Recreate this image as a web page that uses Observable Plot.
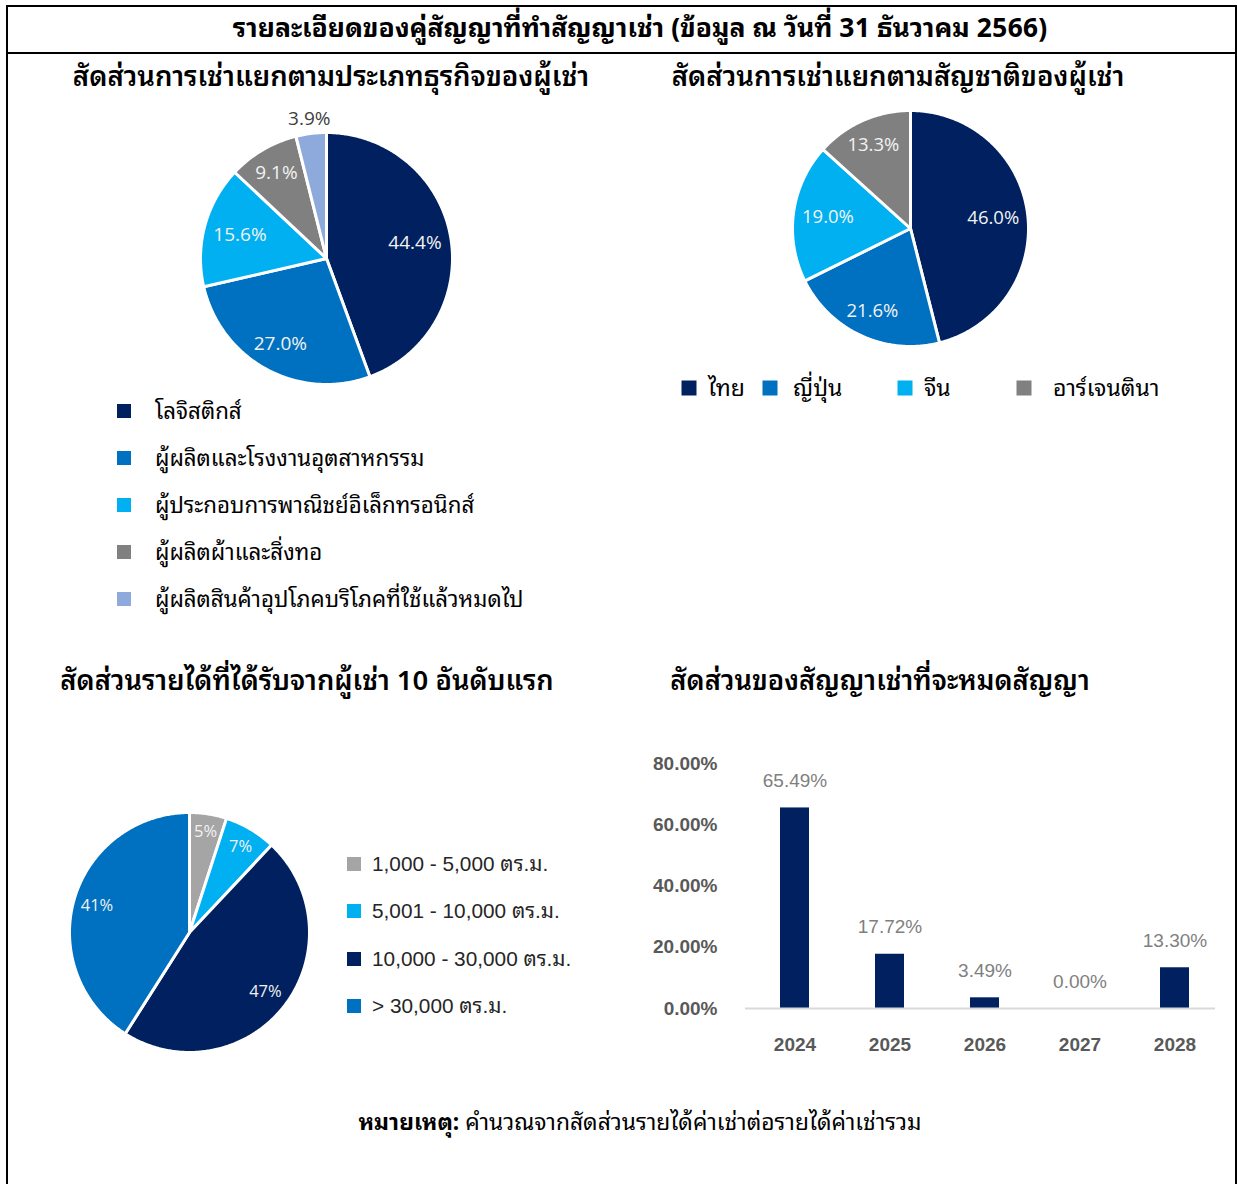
<!DOCTYPE html>
<html><head><meta charset="utf-8">
<script src="https://cdn.jsdelivr.net/npm/d3@7"></script>
<script src="https://cdn.jsdelivr.net/npm/@observablehq/plot@0.6"></script>
<style>
body{margin:0;width:1237px;height:1184px;position:relative;overflow:hidden;background:#fff;font-family:"Noto Sans Thai Looped",Loma,Garuda,"Noto Sans Thai","Noto Sans",sans-serif;color:#000;}
.abs{position:absolute;}
.c{position:absolute;transform:translate(-50%,-50%);white-space:nowrap;}
.l{position:absolute;transform:translate(0,-50%);white-space:nowrap;}
#frame{position:absolute;left:6px;top:5px;width:1227px;height:1200px;border:2px solid #000;}
#hline{position:absolute;left:6px;top:52px;width:1231px;height:2px;background:#000;}
.sq{position:absolute;transform:translate(-50%,-50%);}
</style></head><body>
<div id="frame"></div><div id="hline"></div>
<div id="root"></div>
<script>
// ---------- DATA ----------
const mainTitle = "รายละเอียดของคู่สัญญาที่ทำสัญญาเช่า (ข้อมูล ณ วันที่ 31 ธันวาคม 2566)";
const title1 = "สัดส่วนการเช่าแยกตามประเภทธุรกิจของผู้เช่า";
const title2 = "สัดส่วนการเช่าแยกตามสัญชาติของผู้เช่า";
const title3 = "สัดส่วนรายได้ที่ได้รับจากผู้เช่า 10 อันดับแรก";
const title4 = "สัดส่วนของสัญญาเช่าที่จะหมดสัญญา";
const noteBold = "หมายเหตุ:";
const noteText = " คำนวณจากสัดส่วนรายได้ค่าเช่าต่อรายได้ค่าเช่ารวม";

const businessTypes = ["โลจิสติกส์","ผู้ผลิตและโรงงานอุตสาหกรรม","ผู้ประกอบการพาณิชย์อิเล็กทรอนิกส์","ผู้ผลิตผ้าและสิ่งทอ","ผู้ผลิตสินค้าอุปโภคบริโภคที่ใช้แล้วหมดไป"];
const businessShares = [44.4, 27.0, 15.6, 9.1, 3.9];
const businessColors = ["#002060","#0070C0","#00B0F0","#808080","#8EA9DB"];

const nationalities = ["ไทย","ญี่ปุ่น","จีน","อาร์เจนตินา"];
const nationalityShares = [46.0, 21.6, 19.0, 13.3];
const nationalityColors = ["#002060","#0070C0","#00B0F0","#808080"];

const areaSizes = ["1,000 - 5,000 ตร.ม.","5,001 - 10,000 ตร.ม.","10,000 - 30,000 ตร.ม.","> 30,000 ตร.ม."];
const areaShares = [5, 7, 47, 41];
const areaColors = ["#A5A5A5","#00B0F0","#002060","#0070C0"];

const expiryYears = ["2024","2025","2026","2027","2028"];
const expiryShares = [65.49, 17.72, 3.49, 0.00, 13.30];
const yTicks = [0, 20, 40, 60, 80];

// ---------- HELPERS ----------
const root = document.getElementById("root");
const thai = '"Noto Sans Thai Looped",Loma,Garuda,"Noto Sans Thai","Noto Sans",sans-serif';
function addText(txt, cx, cy, css, cls="c") {
  const d = document.createElement("div");
  d.className = cls; d.style.left = cx + "px"; d.style.top = cy + "px";
  d.style.cssText += css; d.textContent = txt; root.appendChild(d); return d;
}
function place(node, left, top) {
  const w = document.createElement("div");
  w.className = "abs"; w.style.left = left + "px"; w.style.top = top + "px";
  w.appendChild(node); root.appendChild(w);
}
function square(cx, cy, size, color) {
  const d = document.createElement("div");
  d.className = "sq"; d.style.cssText = `left:${cx}px;top:${cy}px;width:${size}px;height:${size}px;background:${color}`;
  root.appendChild(d);
}

function pie({labels, values, colors, R, m, fontSize, fmt, font}) {
  const arcs = d3.pie().sort(null).value(d => d)(values);
  const pts = [], inside = [], outside = [];
  arcs.forEach((a, i) => {
    const k = labels[i];
    const n = Math.max(2, Math.ceil((a.endAngle - a.startAngle) / 0.01));
    pts.push({k, x: 0, y: 0});
    for (let j = 0; j <= n; j++) {
      const t = a.startAngle + (a.endAngle - a.startAngle) * j / n;
      pts.push({k, x: Math.sin(t), y: Math.cos(t)});
    }
    pts.push({k, x: 0, y: 0});
    const mid = (a.startAngle + a.endAngle) / 2;
    const text = fmt(values[i]);
    const w = text.length * fontSize * 0.55, h = fontSize * 0.95;
    if (values[i] < 4.5) {
      const r = 1.12;
      outside.push({x: r * Math.sin(mid), y: r * Math.cos(mid), text});
    } else {
      const rp = 0.93 * R - (Math.abs(Math.sin(mid)) * w / 2 + Math.abs(Math.cos(mid)) * h / 2);
      inside.push({x: rp / R * Math.sin(mid), y: rp / R * Math.cos(mid), text});
    }
  });
  const s = 2 * (R + m);
  return Plot.plot({
    width: s, height: s, margin: m,
    x: {domain: [-1, 1], axis: null}, y: {domain: [-1, 1], axis: null},
    color: {domain: labels, range: colors},
    style: {background: "transparent", fontFamily: font, overflow: "visible"},
    marks: [
      Plot.line(pts, {x: "x", y: "y", z: "k", fill: "k", stroke: "white", strokeWidth: 3, strokeLinejoin: "round"}),
      Plot.text(inside, {x: "x", y: "y", text: "text", fill: "#F2F2F2", fontSize}),
      Plot.text(outside, {x: "x", y: "y", text: "text", fill: "#404040", fontSize})
    ]
  });
}

// ---------- TITLES ----------
addText(mainTitle, 640, 25, `font-weight:bold;font-size:26.5px;font-family:${thai}`);
addText(title1, 331, 74, `font-weight:600;font-size:27.5px;font-family:${thai}`);
addText(title2, 898, 74, `font-weight:600;font-size:27.5px;font-family:${thai}`);
addText(title3, 307, 678, `font-weight:600;font-size:27.3px;font-family:${thai}`);
addText(title4, 880, 678, `font-weight:600;font-size:27.3px;font-family:${thai}`);
const note = addText("", 640, 1120, `font-size:22.8px;font-family:${thai}`);
note.innerHTML = `<b>${noteBold}</b>${noteText}`;

// ---------- PIE 1 ----------
const pctFont = '"Open Sans",Lato,sans-serif';
place(pie({labels: businessTypes, values: businessShares, colors: businessColors, R: 126, m: 30, fontSize: 19, fmt: v => v.toFixed(1) + "%", font: pctFont}), 326 - 156, 258 - 156);
businessTypes.forEach((t, i) => {
  const y = 411 + i * 47;
  square(124, y, 14, businessColors[i]);
  addText(t, 155, y - 2, `font-size:22.3px;font-family:${thai}`, "l");
});

// ---------- PIE 2 ----------
place(pie({labels: nationalities, values: nationalityShares, colors: nationalityColors, R: 118, m: 20, fontSize: 18.5, fmt: v => v.toFixed(1) + "%", font: pctFont}), 910 - 138, 228 - 138);
const legend2Sq = [689, 770, 905, 1024];
const legend2Tx = [708, 793, 924, 1053];
nationalities.forEach((t, i) => {
  square(legend2Sq[i], 388, 15, nationalityColors[i]);
  addText(t, legend2Tx[i], 385, `font-size:23px;font-family:${thai}`, "l");
});

// ---------- PIE 3 ----------
place(pie({labels: areaSizes, values: areaShares, colors: areaColors, R: 120, m: 20, fontSize: 16.5, fmt: v => v + "%", font: pctFont}), 189 - 140, 932 - 140);
areaSizes.forEach((t, i) => {
  const y = 864 + i * 47.3;
  square(354, y, 14, areaColors[i]);
  addText(t, 372, y - 3, `font-size:20.8px;color:#262626;font-family:"Liberation Sans",Arial,${thai}`, "l");
});

// ---------- BAR ----------
const barData = expiryYears.map((year, i) => ({year, value: expiryShares[i]}));
const bar = Plot.plot({
  width: 597, height: 330, marginLeft: 105, marginRight: 13, marginTop: 23, marginBottom: 62,
  style: {background: "transparent", fontFamily: '"Liberation Sans",Arial,sans-serif', overflow: "visible"},
  x: {domain: expiryYears, paddingInner: 0.69, paddingOuter: 0.345},
  y: {domain: [0, 80]},
  marks: [
    Plot.barY(barData, {x: "year", y: "value", fill: "#002060"}),
    Plot.ruleY([0], {stroke: "#D9D9D9", strokeWidth: 2, insetRight: 9}),
    Plot.axisY({ticks: yTicks, tickFormat: d => d.toFixed(2) + "%", tickSize: 0, tickPadding: 28, fontSize: 19, fontWeight: "bold", fill: "#595959", label: null}),
    Plot.axisX({tickSize: 0, tickPadding: 29, fontSize: 19, fontWeight: "bold", fill: "#595959", label: null}),
    Plot.text(barData, {x: "year", y: "value", text: d => d.value.toFixed(2) + "%", dy: -27, fill: "#7F7F7F", fontSize: 19})
  ]
});
place(bar, 640, 740);
</script>
</body></html>
